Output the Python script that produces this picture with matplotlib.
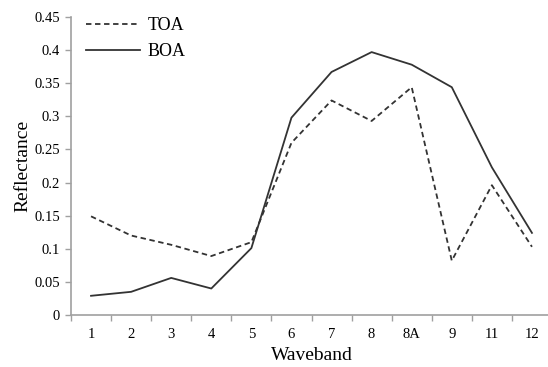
import matplotlib
matplotlib.use("Agg")
import matplotlib.pyplot as plt
import numpy as np

bands = ["1", "2", "3", "4", "5", "6", "7", "8", "8A", "9", "11", "12"]
toa = [0.149, 0.120, 0.106, 0.089, 0.110, 0.260, 0.324, 0.293, 0.344, 0.082, 0.196, 0.103]
boa = [0.029, 0.035, 0.056, 0.040, 0.101, 0.298, 0.367, 0.397, 0.378, 0.344, 0.223, 0.124]
yticks = [0, 0.05, 0.1, 0.15, 0.2, 0.25, 0.3, 0.35, 0.4, 0.45]
ytick_labels = ["0", "0.05", "0.1", "0.15", "0.2", "0.25", "0.3", "0.35", "0.4", "0.45"]

plt.rcParams['font.family'] = ['Liberation Serif', 'DejaVu Serif']

fig = plt.figure(figsize=(5.48, 3.67), dpi=100)
ax = fig.add_axes([71/548, 1-315/367, (552-71)/548, (315-17)/367])

x = np.arange(len(bands))
ax.plot(x, toa, color="#333333", lw=1.3, linestyle=(0, (3, 2)), label="TOA")
ax.plot(x, boa, color="#333333", lw=1.3, linestyle="-", label="BOA")

ax.set_xlim(-0.5, len(bands) - 0.5)
ax.set_ylim(0, 0.45)
ax.set_yticks(yticks)
ax.set_yticklabels(ytick_labels)
ax.set_xticks(x)
ax.set_xticklabels(bands)
ax.set_xticks(np.arange(-0.5, len(bands) + 0.5, 1), minor=True)
ax.tick_params(axis="x", which="major", length=0, pad=9, labelsize=10.5)
ax.tick_params(axis="x", which="minor", length=4, color="#a0a0a0", width=1)
ax.tick_params(axis="y", length=4, color="#a0a0a0", width=1, labelsize=10.5, pad=4)

for s in ["top", "right"]:
    ax.spines[s].set_visible(False)
for s in ["left", "bottom"]:
    ax.spines[s].set_color("#a0a0a0")
    ax.spines[s].set_linewidth(1.2)

ax.set_xlabel("Waveband", fontsize=14, labelpad=5)
ax.set_ylabel("Reflectance", fontsize=14, labelpad=2)

leg = ax.legend(loc="upper left", bbox_to_anchor=(-0.002, 1.055), frameon=False,
                fontsize=13, handlelength=3.0, handletextpad=0.4, labelspacing=0.5)

fig.savefig("out.png", dpi=100)
